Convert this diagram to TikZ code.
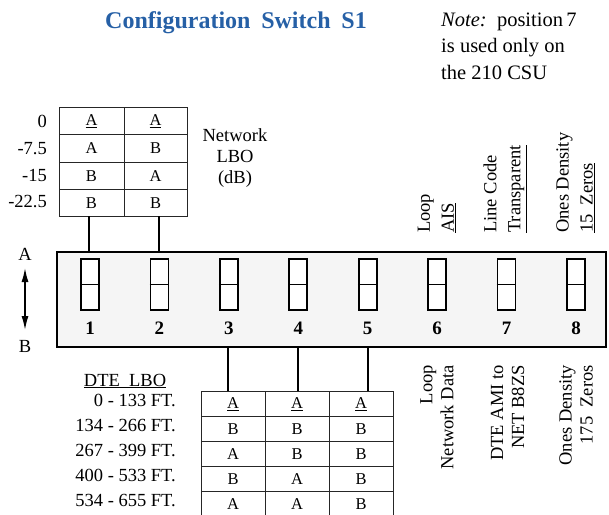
\documentclass[tikz,border=0pt]{standalone}
\usepackage{fontspec}
\setmainfont{Liberation Serif}
\usetikzlibrary{arrows.meta}
\definecolor{titleblue}{RGB}{38,96,166}
\definecolor{boxfill}{RGB}{245,245,245}
\begin{document}
\begin{tikzpicture}[x=1pt,y=-1pt,
  body/.style={font=\fontsize{18.5}{21}\selectfont, inner sep=0pt},
  cell/.style={font=\fontsize{16.5}{19}\selectfont, inner sep=0pt},
  notetext/.style={font=\fontsize{20.5}{26.5}\selectfont, inner sep=0pt, anchor=base west},
  num/.style={font=\fontsize{19}{22}\selectfont\bfseries, inner sep=0pt, anchor=base},
  tline/.style={line width=0.8pt, draw=black!85},
  conn/.style={line width=1.6pt},
  swbox/.style={draw, fill=white, line width=1.8pt, minimum width=18pt, minimum height=51pt, inner sep=0pt},
  toplab/.style={body, rotate=90, anchor=west, align=left, font=\fontsize{18.5}{24}\selectfont},
  botlab/.style={body, rotate=90, anchor=east, align=right, font=\fontsize{18.5}{21}\selectfont}]
\useasboundingbox (0,0) rectangle (609,514);

% title and note
\node[font=\fontsize{24}{28}\selectfont\bfseries, text=titleblue, anchor=base, inner sep=0pt] (title) at (236,28) {Configuration\hspace{0.45em}Switch\hspace{0.45em}S1};
\node[notetext] (note1) at (441,26) {\textit{Note:}\ \ position\,7};
\node[notetext] (note2) at (441,52.5) {is used only on};
\node[notetext] (note3) at (441,79) {the 210 CSU};

% main switch box
\node[draw, line width=1.8pt, fill=boxfill, minimum width=549pt, minimum height=95pt, inner sep=0pt] (box) at (331.5,299.5) {};
\foreach \i in {1,...,8} {
  \node[swbox] (sw\i) at ({90+69.43*(\i-1)},284.5) {};
  \draw[line width=1.8pt] (sw\i.west) -- (sw\i.east);
  \node[num] (n\i) at ({90+69.43*(\i-1)},334) {\i};
}

% A / B arrow
\node[body] (A) at (25,254) {A};
\node[body] (B) at (25,346) {B};
\coordinate (arrA) at (25,268);
\coordinate (arrB) at (25,330);
\draw[line width=1.5pt, {Latex[length=14pt,width=7pt]}-{Latex[length=14pt,width=7pt]}] (arrA) -- (arrB);

% network LBO table
\draw[tline] (59,107) rectangle (187,216);
\draw[tline] (59,134) -- (187,134) (59,162) -- (187,162) (59,189) -- (187,189) (124,107) -- (124,216);
\node[cell] at (91.5,121) {\underline{A}};
\node[cell] at (155.5,121) {\underline{A}};
\node[cell] at (91.5,148.5) {A};
\node[cell] at (155.5,148.5) {B};
\node[cell] at (91.5,176) {B};
\node[cell] at (155.5,176) {A};
\node[cell] at (91.5,203) {B};
\node[cell] at (155.5,203) {B};
\node[body, anchor=mid east] at (47,125) {0};
\node[body, anchor=mid east] at (47,152) {-7.5};
\node[body, anchor=mid east] at (47,179) {-15};
\node[body, anchor=mid east] at (47,205) {-22.5};
\node[body, align=center] (netlbo) at (235,158.5) {Network\\LBO\\(dB)};
\coordinate (ta1) at (89,216);
\coordinate (ta2) at (159,216);
\draw[conn] (ta1) -- (ta1 |- box.north);
\draw[conn] (ta2) -- (ta2 |- box.north);

% DTE LBO table
\draw[tline] (201,391) rectangle (393,516);
\draw[tline] (201,416) -- (393,416) (201,441) -- (393,441) (201,466) -- (393,466) (201,491) -- (393,491)
  (265,391) -- (265,516) (329,391) -- (329,516);
\node[cell] at (233,404) {\underline{A}};
\node[cell] at (297,404) {\underline{A}};
\node[cell] at (361,404) {\underline{A}};
\node[cell] at (233,429) {B};
\node[cell] at (297,429) {B};
\node[cell] at (361,429) {B};
\node[cell] at (233,454) {A};
\node[cell] at (297,454) {B};
\node[cell] at (361,454) {B};
\node[cell] at (233,479) {B};
\node[cell] at (297,479) {A};
\node[cell] at (361,479) {B};
\node[cell] at (233,504) {A};
\node[cell] at (297,504) {A};
\node[cell] at (361,504) {B};
\node[body] (dtelbo) at (125,381) {\underline{DTE\ \ LBO}};
\node[body, anchor=mid east] at (176,404) {0 - 133 FT.};
\node[body, anchor=mid east] at (176,429) {134 - 266 FT.};
\node[body, anchor=mid east] at (176,454) {267 - 399 FT.};
\node[body, anchor=mid east] at (176,479) {400 - 533 FT.};
\node[body, anchor=mid east] at (176,504) {534 - 655 FT.};
\coordinate (tb3) at (228,391);
\coordinate (tb4) at (298,391);
\coordinate (tb5) at (368,391);
\draw[conn] (tb3 |- box.south) -- (tb3);
\draw[conn] (tb4 |- box.south) -- (tb4);
\draw[conn] (tb5 |- box.south) -- (tb5);

% rotated labels above
\node[toplab] (l6a) at (437,233) {Loop\\\underline{AIS}};
\node[toplab] (l7a) at (505,233) {Line Code\\\underline{Transparent}};
\node[toplab] (l8a) at (575.5,233) {Ones Density\\\underline{15\ \ Zeros}};
% rotated labels below
\node[botlab] (l6b) at (437,365) {Loop\\Network Data};
\node[botlab] (l7b) at (507.5,365) {DTE AMI to\\NET B8ZS};
\node[botlab] (l8b) at (576,365) {Ones Density\\175\ \ Zeros};
\end{tikzpicture}
\end{document}
